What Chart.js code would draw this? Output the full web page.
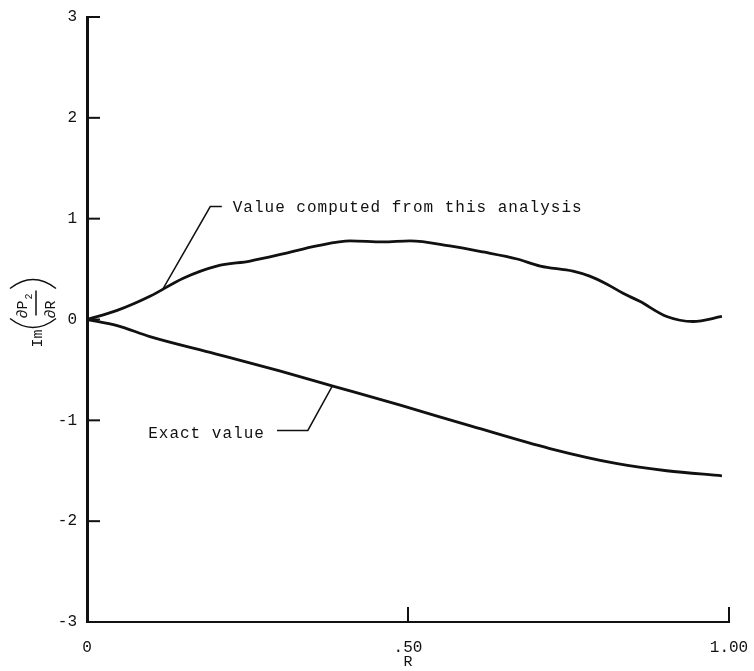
<!DOCTYPE html>
<html>
<head>
<meta charset="utf-8">
<script src="https://cdn.jsdelivr.net/npm/chart.js@4"></script>
<style>
  body { margin: 0; background: #fff; }
  canvas { display: block; }
</style>
</head>
<body>
<canvas id="plot" width="754" height="671"></canvas>
<script>
// values
var computedR  = [0, 0.047, 0.098, 0.15, 0.202, 0.254, 0.305, 0.358, 0.41, 0.461, 0.503, 0.565, 0.617, 0.67, 0.706, 0.757, 0.783, 0.81, 0.835, 0.861, 0.903, 0.944, 0.989];
var computedIm = [0, 0.09, 0.23, 0.41, 0.53, 0.58, 0.65, 0.73, 0.78, 0.77, 0.78, 0.73, 0.67, 0.60, 0.53, 0.48, 0.43, 0.35, 0.26, 0.18, 0.03, -0.02, 0.03];
var exactR  = [0, 0.047, 0.098, 0.2, 0.3, 0.383, 0.488, 0.6, 0.721, 0.826, 0.903, 0.989];
var exactIm = [0, -0.06, -0.17, -0.34, -0.51, -0.66, -0.85, -1.06, -1.28, -1.43, -1.50, -1.55];

var xTicks = [0, 0.5, 1];
var xTickLabels = ['0', '.50', '1.00'];
var yTicks = [3, 2, 1, 0, -1, -2, -3];
var yTickLabels = ['3', '2', '1', '0', '-1', '-2', '-3'];

// callouts, in data units: text anchor then leader line points
var computedLabel = 'Value computed from this analysis';
var computedLeader = [[0.117, 0.29], [0.192, 1.12], [0.210, 1.12]];
var computedText = [0.227, 1.11];
var exactLabel = 'Exact value';
var exactLeader = [[0.382, -0.66], [0.344, -1.10], [0.296, -1.10]];
var exactText = [0.277, -1.13];

var MONO = '"Liberation Mono", "DejaVu Sans Mono", monospace';
var INK = '#111';

function pairs(xs, ys) {
  return xs.map(function (x, i) { return { x: x, y: ys[i] }; });
}

var extras = {
  id: 'extras',
  afterDraw: function (chart) {
    var ctx = chart.ctx;
    var xs = chart.scales.x, ys = chart.scales.y;
    var left = xs.left, bottom = ys.bottom;
    ctx.save();
    ctx.strokeStyle = INK;
    ctx.fillStyle = INK;

    // inward tick marks
    ctx.lineWidth = 2;
    yTicks.forEach(function (v) {
      if (v === -3) return;
      var py = ys.getPixelForValue(v);
      ctx.beginPath(); ctx.moveTo(left, py); ctx.lineTo(left + 13, py); ctx.stroke();
    });
    xTicks.forEach(function (v) {
      if (v === 0) return;
      var px = xs.getPixelForValue(v);
      ctx.beginPath(); ctx.moveTo(px, bottom); ctx.lineTo(px, bottom - 15); ctx.stroke();
    });

    // leader lines
    ctx.lineWidth = 1.5;
    [computedLeader, exactLeader].forEach(function (pts) {
      ctx.beginPath();
      pts.forEach(function (p, i) {
        var px = xs.getPixelForValue(p[0]), py = ys.getPixelForValue(p[1]);
        if (i === 0) ctx.moveTo(px, py); else ctx.lineTo(px, py);
      });
      ctx.stroke();
    });

    ctx.font = '16px ' + MONO;
    ctx.letterSpacing = '1px';
    ctx.textBaseline = 'middle';
    ctx.textAlign = 'left';
    ctx.fillText(computedLabel, xs.getPixelForValue(computedText[0]), ys.getPixelForValue(computedText[1]));
    ctx.textAlign = 'right';
    ctx.fillText(exactLabel, xs.getPixelForValue(exactText[0]), ys.getPixelForValue(exactText[1]));
    ctx.letterSpacing = '0px';

    // y axis title: Im(dP2/dR), rotated
    ctx.translate(36, ys.getPixelForValue(0) - 9);
    ctx.rotate(-Math.PI / 2);
    ctx.textAlign = 'left';
    ctx.textBaseline = 'alphabetic';
    ctx.font = '15px ' + MONO;
    ctx.fillText('Im', -37, 6);
    ctx.fillText('\u2202P', -8, -9);
    ctx.fillText('\u2202R', -8, 19);
    ctx.font = '10px ' + MONO;
    ctx.fillText('2', 11, -4);
    ctx.lineWidth = 1.5;
    ctx.beginPath(); ctx.moveTo(-5, 0); ctx.lineTo(20, 0); ctx.stroke();
    ctx.beginPath(); ctx.moveTo(-8, -26); ctx.quadraticCurveTo(-26, -3, -8, 20); ctx.stroke();
    ctx.beginPath(); ctx.moveTo(22, -26); ctx.quadraticCurveTo(40, -3, 22, 20); ctx.stroke();
    ctx.restore();
  }
};

var ctx = document.getElementById('plot').getContext('2d');

var chart = new Chart(ctx, {
  type: 'line',
  data: {
    datasets: [{
      label: computedLabel,
      data: pairs(computedR, computedIm),
      borderColor: INK,
      borderWidth: 2.8,
      pointRadius: 0,
      cubicInterpolationMode: 'monotone',
      fill: false
    }, {
      label: exactLabel,
      data: pairs(exactR, exactIm),
      borderColor: INK,
      borderWidth: 2.8,
      pointRadius: 0,
      cubicInterpolationMode: 'monotone',
      fill: false
    }]
  },
  options: {
    responsive: false,
    animation: false,
    layout: { padding: { left: 0, top: 17, right: 25, bottom: 0 } },
    plugins: {
      legend: { display: false },
      tooltip: { enabled: false }
    },
    scales: {
      x: {
        type: 'linear',
        min: 0,
        max: 1,
        afterBuildTicks: function (scale) {
          scale.ticks = xTicks.map(function (v) { return { value: v }; });
        },
        afterFit: function (scale) {
          scale.height = 49;
          scale.paddingLeft = 0;
          scale.paddingRight = 0;
        },
        grid: { display: false, drawTicks: false, tickLength: 0 },
        border: { display: true, color: INK, width: 2 },
        ticks: {
          color: INK,
          padding: 16,
          maxRotation: 0,
          autoSkip: false,
          font: { family: MONO, size: 16 },
          callback: function (v) { return xTickLabels[xTicks.indexOf(v)]; }
        },
        title: {
          display: true,
          text: 'R',
          color: INK,
          padding: { top: 0, bottom: 0 },
          font: { family: MONO, size: 15 }
        }
      },
      y: {
        min: -3,
        max: 3,
        afterBuildTicks: function (scale) {
          scale.ticks = yTicks.map(function (v) { return { value: v }; });
        },
        afterFit: function (scale) {
          scale.width = 87;
          scale.paddingTop = 0;
          scale.paddingBottom = 0;
        },
        grid: { display: false, drawTicks: false, tickLength: 0 },
        border: { display: true, color: INK, width: 3 },
        ticks: {
          color: INK,
          padding: 10,
          autoSkip: false,
          font: { family: MONO, size: 16 },
          callback: function (v) { return yTickLabels[yTicks.indexOf(v)]; }
        }
      }
    }
  },
  plugins: [extras]
});
</script>
</body>
</html>
